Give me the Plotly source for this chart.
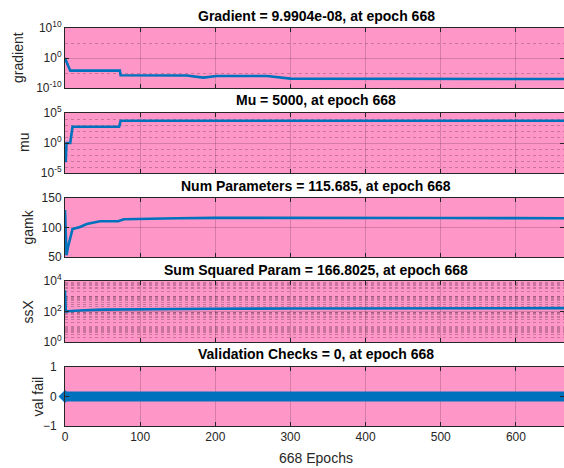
import plotly.graph_objects as go

W, H = 564, 468

# ---------------- data ----------------
grad_epoch = [0, 2, 4, 7, 9, 20, 35, 50, 65, 73, 74, 120, 162, 184, 202, 230, 269, 300, 400, 500, 600, 668]
grad_value = [1.0, 1e-1, 3e-3, 6e-5, 6e-5, 5e-5, 6e-5, 7e-5, 6e-5, 6e-5, 1.7e-6, 1.5e-6, 1.5e-6, 2.8e-7, 1e-6, 1e-6, 1e-6, 1.3e-7, 1.2e-7, 1.1e-7, 1.0e-7, 9.9904e-8]

mu_epoch = [0, 1, 2, 7, 10, 72, 74, 668]
mu_value = [1e-3, 1e-3, 1.0, 1.0, 500, 500, 5000, 5000]

gamk_epoch = [0, 2, 4, 10, 20, 29, 40, 47, 60, 71, 78, 100, 150, 200, 300, 400, 500, 600, 668]
gamk_value = [129.7, 53, 67, 97.5, 101, 106, 109, 110.5, 110.5, 110.5, 114, 114.8, 115.6, 116.3, 116.6, 116.4, 116.1, 115.9, 115.685]

ssx_epoch = [0, 1, 3, 10, 25, 50, 100, 200, 300, 400, 500, 600, 668]
ssx_value = [2500, 100, 105, 112, 122, 132, 142, 152, 158, 162, 164.5, 166, 166.8025]

val_epoch = [0, 668]
val_value = [0, 0]

titles = [
    "Gradient = 9.9904e-08, at epoch 668",
    "Mu = 5000, at epoch 668",
    "Num Parameters = 115.685, at epoch 668",
    "Sum Squared Param = 166.8025, at epoch 668",
    "Validation Checks = 0, at epoch 668",
]
ylabels = ["gradient", "mu", "gamk", "ssX", "val fail"]
xticks = [0, 100, 200, 300, 400, 500, 600]

# ---------------- style ----------------
PINK = "#FF96C8"
BLUE = "#0072BD"
GRID = "rgba(0,0,0,0.16)"
AX = "#262626"
FONT = "Liberation Sans, Arial, sans-serif"

# panel pixel extents (top, bottom)
panels = [(28, 88), (113, 173), (198, 257), (281, 342), (367, 426)]
title_y = [16, 100, 186, 270, 354]
label_x = [18, 24, 27, 27, 37]
x_left = 65

fig = go.Figure()

series = [
    (grad_epoch, grad_value),
    (mu_epoch, mu_value),
    (gamk_epoch, gamk_value),
    (ssx_epoch, ssx_value),
]
for i, (xs, ys) in enumerate(series):
    fig.add_trace(go.Scatter(x=xs, y=ys, mode="lines",
                             line=dict(color=BLUE, width=2.6),
                             xaxis=f"x{i+1}", yaxis=f"y{i+1}", showlegend=False))
fig.add_trace(go.Scatter(x=val_epoch, y=val_value, mode="lines+markers",
                         line=dict(color=BLUE, width=10),
                         marker=dict(symbol="diamond", size=10, color=BLUE),
                         xaxis="x5", yaxis="y5", showlegend=False, cliponaxis=False))

def sup(e):
    return f"10<sup>{e}</sup>"

ssx_minor = [m * 10 ** k for k in range(4) for m in range(2, 11) if not (m == 10 and k % 2 == 1)]

yspecs = [
    dict(type="log", range=[-10, 10], tickvals=[1e-10, 1, 1e10],
         ticktext=[sup(-10), sup(0), sup(10)],
         minor=dict(tickvals=[1e-5, 1e5], showgrid=True, griddash="dot",
                    gridcolor="rgba(0,0,0,0.22)", ticks="")),
    dict(type="log", range=[-5, 5], tickvals=[1e-5, 1, 1e5],
         ticktext=[sup(-5), sup(0), sup(5)],
         minor=dict(tickvals=[1e-4, 1e-3, 1e-2, 1e-1, 10, 100, 1e3, 1e4],
                    showgrid=True, griddash="dot",
                    gridcolor="rgba(0,0,0,0.22)", ticks="")),
    dict(range=[50, 150], tickvals=[50, 100, 150]),
    dict(type="log", range=[0, 4], tickvals=[1, 100, 1e4],
         ticktext=[sup(0), sup(2), sup(4)],
         minor=dict(tickvals=ssx_minor,
                    showgrid=True, griddash="dot",
                    gridcolor="rgba(0,0,0,0.22)", ticks="")),
    dict(range=[-1, 1], tickvals=[-1, 0, 1], ticklabelstandoff=5),
]

layout = dict(
    width=W, height=H,
    margin=dict(l=0, r=0, t=0, b=0),
    paper_bgcolor="white",
    plot_bgcolor=PINK,
    font=dict(family=FONT, color=AX, size=12),
    showlegend=False,
)

annotations = []
for i in range(5):
    top, bot = panels[i]
    ydom = [1 - bot / H, 1 - top / H]
    xa = dict(domain=[x_left / W, 1], range=[0, 664], tickvals=xticks,
              showticklabels=(i == 4), ticks="inside", ticklen=4,
              tickcolor=AX, showline=True, linecolor=AX, linewidth=1,
              mirror="ticks", showgrid=True, gridcolor=GRID, zeroline=False,
              anchor=f"y{i+1}", automargin=False,
              tickfont=dict(size=12, color=AX, family=FONT))
    ya = dict(domain=ydom, ticks="inside", ticklen=4, tickcolor=AX,
              showline=True, linecolor=AX, linewidth=1, mirror="ticks",
              showgrid=True, gridcolor=GRID, zeroline=False,
              anchor=f"x{i+1}", automargin=False,
              tickfont=dict(size=12, color=AX, family=FONT))
    ya.update(yspecs[i])
    layout[f"xaxis{i+1}" if i else "xaxis"] = xa
    layout[f"yaxis{i+1}" if i else "yaxis"] = ya

    annotations.append(dict(text=f"<b>{titles[i]}</b>", x=(x_left + 567) / 2 / W,
                            y=1 - title_y[i] / H, xref="paper", yref="paper",
                            showarrow=False, xanchor="center", yanchor="middle",
                            font=dict(size=14, color="black", family=FONT)))
    annotations.append(dict(text=ylabels[i], x=label_x[i] / W,
                            y=1 - (top + bot) / 2 / H, xref="paper", yref="paper",
                            showarrow=False, xanchor="center", yanchor="middle",
                            textangle=-90,
                            font=dict(size=14, color=AX, family=FONT)))

annotations.append(dict(text="668 Epochs", x=(x_left + 567) / 2 / W, y=1 - 458 / H,
                        xref="paper", yref="paper", showarrow=False,
                        xanchor="center", yanchor="middle",
                        font=dict(size=14, color=AX, family=FONT)))
layout["annotations"] = annotations

fig.update_layout(**layout)
fig.write_html("out.html", config={"displayModeBar": False},
               post_script="document.body.style.margin='0';document.body.style.overflow='hidden';")
